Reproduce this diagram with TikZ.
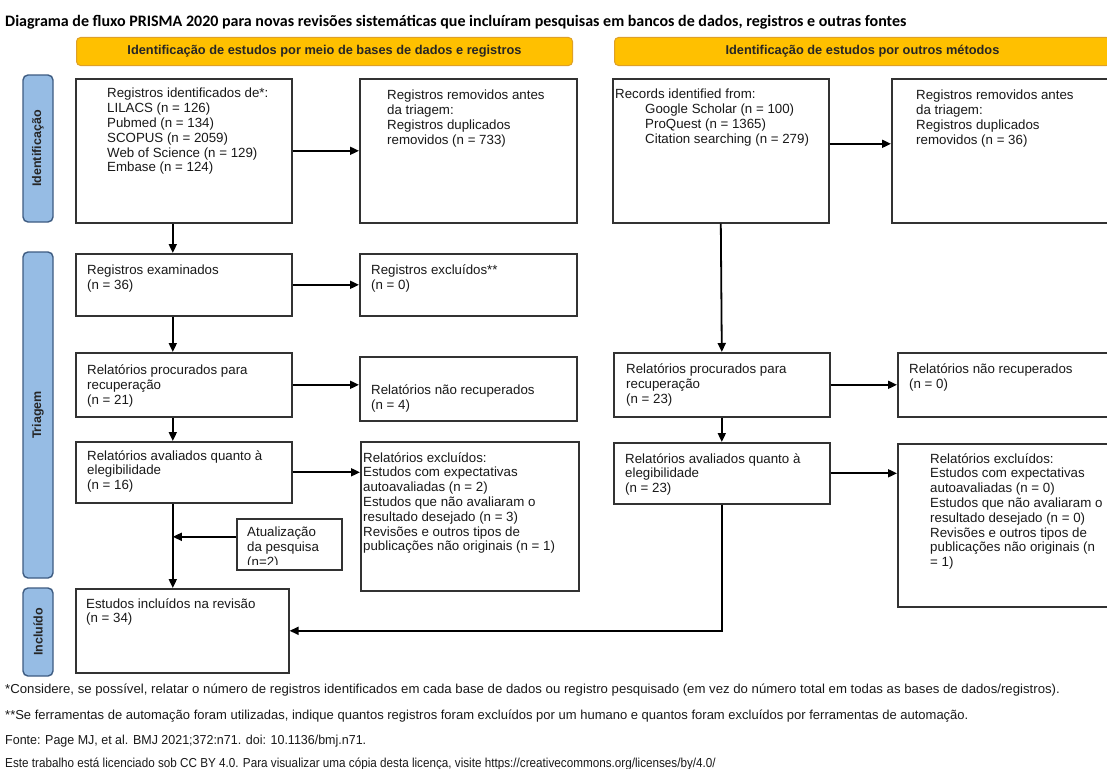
\documentclass[tikz,border=0pt]{standalone}
\usepackage{fontspec}
\setmainfont{Liberation Sans}
\newfontfamily\titlefont{Carlito}
\usetikzlibrary{arrows.meta, positioning, calc}
\definecolor{HdrGold}{RGB}{255,192,0}
\definecolor{HdrEdge}{RGB}{222,160,40}
\definecolor{BarBlue}{RGB}{150,188,228}
\definecolor{BarEdge}{RGB}{62,92,130}
\definecolor{BoxLine}{RGB}{50,50,50}
\tikzset{
  header/.style={
    rectangle, rounded corners=4pt, anchor=north west,
    minimum width=496pt, minimum height=28pt,
    draw=HdrEdge, fill=HdrGold, line width=1pt,
    font=\fontsize{12.8}{14}\selectfont\bfseries, text=black!85
  },
  phase/.style={
    rectangle, rounded corners=5pt, rotate=90,
    minimum height=30pt,
    draw=BarEdge, fill=BarBlue, line width=1.4pt,
    font=\fontsize{12.5}{14}\selectfont\bfseries, text=black!85
  },
  flow/.style={
    rectangle, anchor=north west, inner sep=0pt,
    draw=BoxLine, line width=1.6pt
  },
  txt/.style={
    anchor=north west, inner sep=0pt, align=left,
    font=\fontsize{13.3}{14.8}\selectfont, text=black!90
  },
  arr/.style={-{Triangle[length=9pt,width=8pt]}, draw=black, line width=1.8pt},
  note/.style={anchor=west, inner sep=0pt, font=\fontsize{13}{15}\selectfont, text=black!90}
}

\begin{document}
\begin{tikzpicture}[x=1pt, y=-1pt]
  \fill[white] (0,0) rectangle (1107,768);
  \useasboundingbox (0,0) rectangle (1107,768);

  % title and column headers
  \node[anchor=west, inner sep=0pt, font=\titlefont\fontsize{16}{18}\selectfont\bfseries]
    (title) at (5,22) {Diagrama de fluxo PRISMA 2020 para novas revisões sistemáticas que incluíram pesquisas em bancos de dados, registros e outras fontes};
  \node[header] (hdrL) at (76,37) {Identificação de estudos por meio de bases de dados e registros};
  \node[header] (hdrR) at (614,37) {Identificação de estudos por outros métodos};

  % phases
  \node[phase, minimum width=147pt] (phId) at (38,148.5) {Identificação};
  \node[phase, minimum width=326pt] (phTr) at (38,415) {Triagem};
  \node[phase, minimum width=88pt]  (phIn) at (38,632) {Incluído};

  % databases and registers
  \node[flow, minimum width=216pt, minimum height=144pt] (B1) at (75,78) {};
  \node[flow, minimum width=217pt, minimum height=144pt] (B2) at (359,78) {};
  \node[flow, minimum width=216pt, minimum height=62pt]  (B5) at (75,253) {};
  \node[flow, minimum width=217pt, minimum height=62pt]  (B6) at (359,253) {};
  \node[flow, minimum width=216pt, minimum height=64pt]  (B7) at (75,352) {};
  \node[flow, minimum width=217pt, minimum height=64pt]  (B8) at (359,356) {};
  \node[flow, minimum width=216pt, minimum height=61pt]  (B11) at (75,441) {};
  \node[flow, minimum width=218pt, minimum height=149pt] (B12) at (360,441) {};
  \node[flow, minimum width=105pt, minimum height=51pt]  (upd) at (236,518) {};
  \node[flow, minimum width=213pt, minimum height=84pt]  (B15) at (75,588) {};

  % other methods
  \node[flow, minimum width=216pt, minimum height=144pt] (B3) at (612,78) {};
  \node[flow, minimum width=224pt, minimum height=144pt] (B4) at (891,78) {};
  \node[flow, minimum width=216pt, minimum height=64pt]  (B9) at (613,352) {};
  \node[flow, minimum width=218pt, minimum height=64pt]  (B10) at (897,352) {};
  \node[flow, minimum width=216pt, minimum height=61pt]  (B13) at (613,442) {};
  \node[flow, minimum width=218pt, minimum height=163pt] (B14) at (897,443) {};

  % box texts
  \node[txt] (B1t) at ($(B1.north west)+(32,10)$) {Registros identificados de*:\\LILACS (n = 126)\\Pubmed (n = 134)\\SCOPUS (n = 2059)\\Web of Science (n = 129)\\Embase (n = 124)};
  \node[txt] (B2t) at ($(B2.north west)+(28,12)$) {Registros removidos antes\\da triagem:\\Registros duplicados\\removidos (n = 733)};
  \node[txt] (B5t) at ($(B5.north west)+(12,12)$) {Registros examinados\\(n = 36)};
  \node[txt] (B6t) at ($(B6.north west)+(12,12)$) {Registros excluídos**\\(n = 0)};
  \node[txt] (B7t) at ($(B7.north west)+(12,13)$) {Relatórios procurados para\\recuperação\\(n = 21)};
  \node[txt] (B8t) at ($(B8.north west)+(12,29)$) {Relatórios não recuperados\\(n = 4)};
  \node[txt] (B11t) at ($(B11.north west)+(12,9)$) {Relatórios avaliados quanto à\\elegibilidade\\(n = 16)};
  \node[txt] (B12t) at ($(B12.north west)+(3,11)$) {Relatórios excluídos:\\Estudos com expectativas\\autoavaliadas (n = 2)\\Estudos que não avaliaram o\\resultado desejado (n = 3)\\Revisões e outros tipos de\\publicações não originais (n = 1)};
  \begin{scope}
    \clip ([yshift=6pt]upd.south west) rectangle (upd.north east);
    \node[txt] (updt) at ($(upd.north west)+(11,9)$) {Atualização\\da pesquisa\\(n=2)};
  \end{scope}
  \node[txt] (B15t) at ($(B15.north west)+(11,10)$) {Estudos incluídos na revisão\\(n = 34)};

  \node[txt] (B3t) at ($(B3.north west)+(3,11)$) {Records identified from:\\\hspace*{30pt}Google Scholar (n = 100)\\\hspace*{30pt}ProQuest (n = 1365)\\\hspace*{30pt}Citation searching (n = 279)};
  \node[txt] (B4t) at ($(B4.north west)+(25,12)$) {Registros removidos antes\\da triagem:\\Registros duplicados\\removidos (n = 36)};
  \node[txt] (B9t) at ($(B9.north west)+(13,12)$) {Relatórios procurados para\\recuperação\\(n = 23)};
  \node[txt] (B10t) at ($(B10.north west)+(12,12)$) {Relatórios não recuperados\\(n = 0)};
  \node[txt] (B13t) at ($(B13.north west)+(12,11)$) {Relatórios avaliados quanto à\\elegibilidade\\(n = 23)};
  \node[txt] (B14t) at ($(B14.north west)+(33,10)$) {Relatórios excluídos:\\Estudos com expectativas\\autoavaliadas (n = 0)\\Estudos que não avaliaram o\\resultado desejado (n = 0)\\Revisões e outros tipos de\\publicações não originais (n\\= 1)};

  % connectors
  \coordinate (trunk) at ([xshift=-11pt]B11.south);
  \draw[arr] (B1.east) -- (B2.west);
  \draw[arr] ([xshift=-11pt]B1.south) -- ([xshift=-11pt]B5.north);
  \draw[arr] (B5.east) -- (B5.east -| B6.west);
  \draw[arr] ([xshift=-11pt]B5.south) -- ([xshift=-11pt]B7.north);
  \draw[arr] (B7.east) -- (B7.east -| B8.west);
  \draw[arr] ([xshift=-11pt]B7.south) -- ([xshift=-11pt]B11.north);
  \draw[arr] (B11.east) -- (B11.east -| B12.west);
  \draw[arr] (trunk) -- (trunk |- B15.north);
  \draw[arr] ([yshift=7.5pt]upd.west) -- ([yshift=7.5pt]upd.west -| trunk);

  \draw[arr] ([yshift=7pt]B3.east) -- ([yshift=7pt]B4.west);
  \draw[arr] (B3.south) -- (B9.north);
  \draw[arr] (B9.east) -- (B9.east -| B10.west);
  \draw[arr] (B9.south) -- (B13.north);
  \draw[arr] (B13.east) -- (B13.east -| B14.west);
  \draw[arr] (B13.south) |- (B15.east);

  % footnotes
  \node[note] (n1) at (5,690) {\scalebox{1.015}[1]{*Considere, se possível, relatar o número de registros identificados em cada base de dados ou registro pesquisado (em vez do número total em todas as bases de dados/registros).}};
  \node[note] (n2) at (5,716) {**Se ferramentas de automação foram utilizadas, indique quantos registros foram excluídos por um humano e quantos foram excluídos por ferramentas de automação.};
  \node[note] (n3) at (5,741) {\scalebox{0.96}[1]{Fonte: Page MJ, et al. BMJ 2021;372:n71. doi: 10.1136/bmj.n71.}};
  \node[note] (n4) at (5,764) {\scalebox{0.9}[1]{Este trabalho está licenciado sob CC BY 4.0. Para visualizar uma cópia desta licença, visite https://creativecommons.org/licenses/by/4.0/}};
\end{tikzpicture}
\end{document}
